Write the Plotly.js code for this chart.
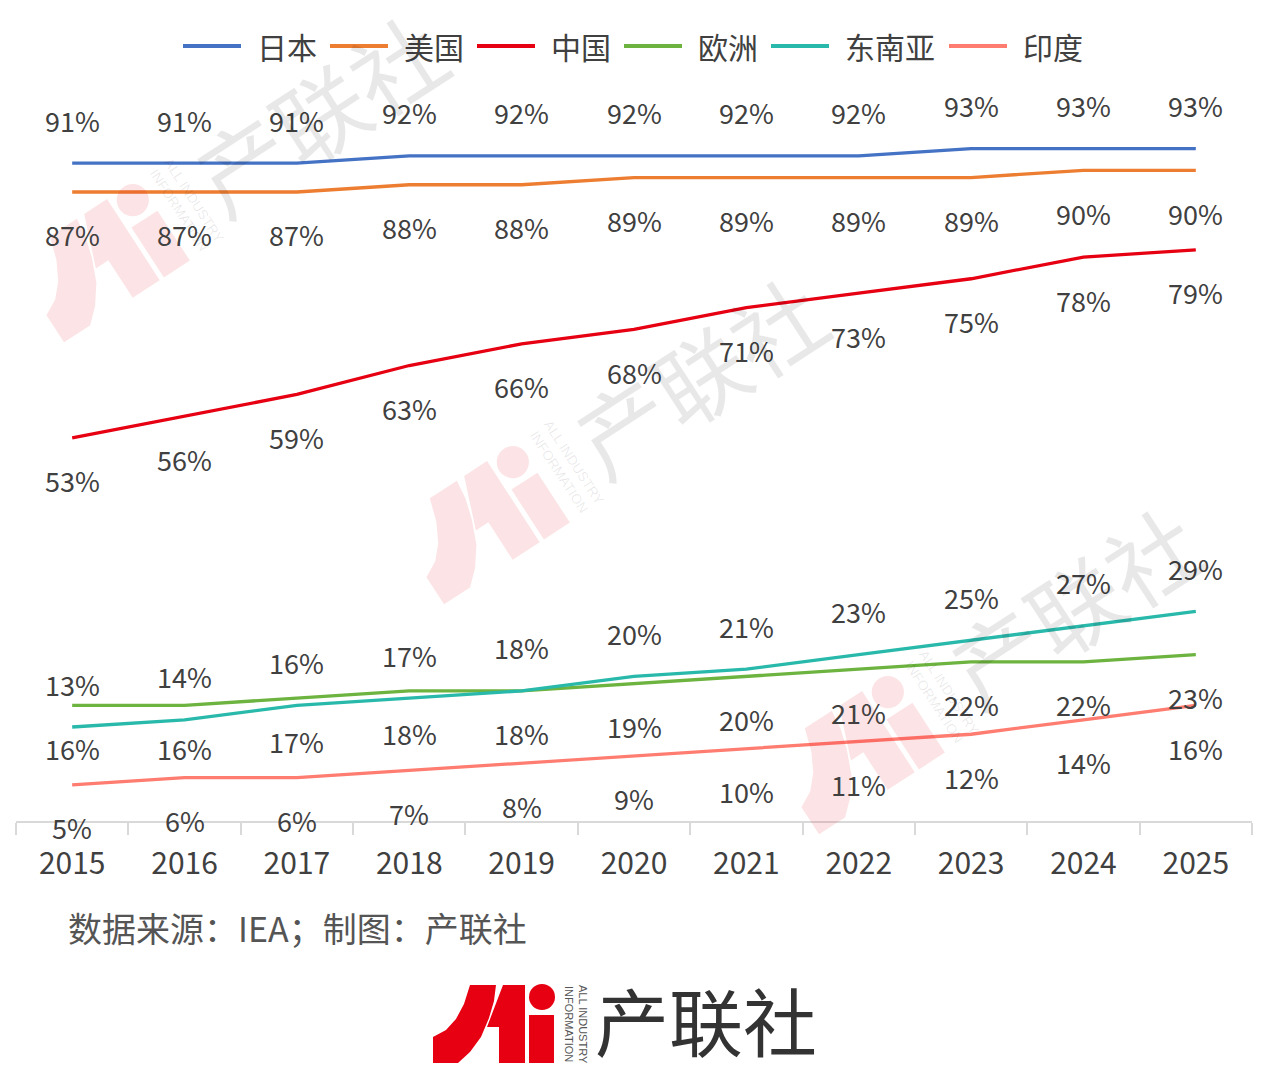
<!DOCTYPE html>
<html>
<head>
<meta charset="utf-8">
<script src="https://cdn.plot.ly/plotly-3.0.1.min.js"></script>
<style>
  html, body { margin: 0; padding: 0; background: #fff; }
  #chart { width: 1268px; height: 1072px; }
</style>
</head>
<body>
<div id="chart"></div>
<script>
(() => {
  "use strict";

  // ---- data ----
  const years = ["2015", "2016", "2017", "2018", "2019", "2020", "2021", "2022", "2023", "2024", "2025"];
  const japan = [91, 91, 91, 92, 92, 92, 92, 92, 93, 93, 93];
  const usa = [87, 87, 87, 88, 88, 89, 89, 89, 89, 90, 90];
  const china = [53, 56, 59, 63, 66, 68, 71, 73, 75, 78, 79];
  const europe = [16, 16, 17, 18, 18, 19, 20, 21, 22, 22, 23];
  const seAsia = [13, 14, 16, 17, 18, 20, 21, 23, 25, 27, 29];
  const india = [5, 6, 6, 7, 8, 9, 10, 11, 12, 14, 16];
  const seriesNames = ["日本", "美国", "中国", "欧洲", "东南亚", "印度"];
  const sourceNote = "数据来源：IEA；制图：产联社";
  const brand = "产联社";
  const brandSub = "ALL INDUSTRY<br>INFORMATION";

  // ---- style ----
  const seriesValues = [japan, usa, china, europe, seAsia, india];
  const seriesColors = ["#4472C4", "#ED7D31", "#E60012", "#6CB33F", "#29B9AB", "#FF7C70"];
  const labelSide = [1, -1, -1, -1, 1, -1]; // 1 = above line, -1 = below

  const FONT = "Noto Sans CJK SC, Noto Sans, sans-serif";
  const TXT = "#404040";

  const W = 1268, H = 1072, ML = 16, MR = 16, MT = 98, MB = 251;
  const PW = W - ML - MR, PH = H - MT - MB;
  const px2x = (px) => (px - ML) / PW;
  const py2y = (py) => (H - MB - py) / PH;

  // ---- traces ----
  const traces = seriesValues.map((vals, i) => ({
    type: "scatter",
    mode: "lines",
    name: seriesNames[i],
    x: years,
    y: vals,
    line: { color: seriesColors[i], width: 3.3 },
    hoverinfo: "skip",
    showlegend: false,
  }));

  const annotations = [];
  const shapes = [];

  // value labels
  seriesValues.forEach((vals, i) => {
    vals.forEach((v, j) => {
      annotations.push({
        x: j, y: v, xref: "x", yref: "y",
        xanchor: "center", yanchor: "middle",
        text: v + "%", showarrow: false,
        yshift: labelSide[i] > 0 ? 43 : -43,
        font: { family: FONT, size: 27, color: TXT },
      });
    });
  });

  // legend (drawn by hand: long line swatches)
  let lx = 183;
  const ly = py2y(46);
  seriesNames.forEach((name, i) => {
    shapes.push({
      type: "line", xref: "paper", yref: "paper",
      x0: px2x(lx), x1: px2x(lx + 58), y0: ly, y1: ly,
      line: { color: seriesColors[i], width: 4 },
    });
    lx += 72;
    annotations.push({
      x: px2x(lx), y: ly, xref: "paper", yref: "paper",
      xanchor: "left", yanchor: "middle", showarrow: false,
      text: name, font: { family: FONT, size: 30, color: TXT },
    });
    lx += name.length * 31 + 13;
  });

  // source note
  annotations.push({
    x: px2x(66), y: py2y(927), xref: "paper", yref: "paper",
    xanchor: "left", yanchor: "middle", showarrow: false,
    text: sourceNote, font: { family: FONT, size: 34, color: "#555555" },
  });

  // ---- logo (page pixel coords, origin at its bottom-left) ----
  const LOGO_O = [432, 1063];
  const logoPolys = [
    [[470, 985], [496, 985], [494, 1001], [489, 1018], [481, 1037], [470, 1052], [458, 1063],
     [433, 1063], [433, 1037], [446, 1030], [456, 1019], [464, 1004]],
    [[503, 985], [525, 985], [525, 1063], [499, 1063], [499, 1027], [487, 1027]],
    [[529, 1015], [554, 1015], [554, 1063], [529, 1063]],
  ];
  const logoDot = { c: [542, 997], r: 13 };
  const brandPos = [706, 1019];
  const subPos = [576, 1024];

  function addLogo(anchor, s, deg, fill, brandColor, subColor) {
    const t = deg * Math.PI / 180, c = Math.cos(t), sn = Math.sin(t);
    const tf = ([x, y]) => {
      const dx = x - LOGO_O[0], dy = y - LOGO_O[1];
      return [anchor[0] + s * (dx * c + dy * sn), anchor[1] + s * (-dx * sn + dy * c)];
    };
    logoPolys.forEach((poly) => {
      const d = "M" + poly.map((p) => {
        const q = tf(p);
        return px2x(q[0]).toFixed(5) + "," + py2y(q[1]).toFixed(5);
      }).join("L") + "Z";
      shapes.push({ type: "path", xref: "paper", yref: "paper", path: d,
        fillcolor: fill, line: { width: 0 }, layer: "above" });
    });
    const dc = tf(logoDot.c), r = logoDot.r * s;
    shapes.push({ type: "circle", xref: "paper", yref: "paper",
      x0: px2x(dc[0] - r), x1: px2x(dc[0] + r), y0: py2y(dc[1] + r), y1: py2y(dc[1] - r),
      fillcolor: fill, line: { width: 0 }, layer: "above" });
    const bp = tf(brandPos), sp = tf(subPos);
    annotations.push({
      x: px2x(bp[0]), y: py2y(bp[1]), xref: "paper", yref: "paper",
      xanchor: "center", yanchor: "middle",
      showarrow: false, text: brand, textangle: -deg,
      font: { family: FONT, size: 74 * s, color: brandColor },
    });
    annotations.push({
      x: px2x(sp[0]), y: py2y(sp[1]), xref: "paper", yref: "paper",
      xanchor: "center", yanchor: "middle",
      showarrow: false, text: brandSub, textangle: 90 - deg,
      font: { family: "Liberation Sans Narrow, Liberation Sans, sans-serif", size: 11 * s, color: subColor },
    });
  }

  // watermarks
  [[63, 343], [443, 605], [818, 835]].forEach((a) =>
    addLogo(a, 1.24, 33, "rgba(230,0,18,0.11)", "rgba(0,0,0,0.09)", "rgba(0,0,0,0.09)"));
  // footer logo
  addLogo(LOGO_O, 1, 0, "#E60012", "#333333", "#555555");

  const layout = {
    width: W, height: H,
    margin: { l: ML, r: MR, t: MT, b: MB, pad: 0 },
    paper_bgcolor: "#ffffff", plot_bgcolor: "#ffffff",
    showlegend: false,
    font: { family: FONT, color: TXT },
    xaxis: {
      type: "category", range: [-0.5, 10.5],
      tickson: "boundaries", ticks: "outside", ticklen: 12, tickwidth: 2, tickcolor: "#d9d9d9",
      showline: true, linecolor: "#d9d9d9", linewidth: 2,
      showgrid: false, zeroline: false,
      tickfont: { family: FONT, size: 30, color: TXT },
      ticklabelstandoff: 15,
      fixedrange: true,
    },
    yaxis: {
      range: [0, 100], showgrid: false, zeroline: false, showline: false,
      showticklabels: false, ticks: "", fixedrange: true,
    },
    annotations: annotations,
    shapes: shapes,
  };

  Plotly.newPlot("chart", traces, layout, { displayModeBar: false, staticPlot: true });
})();
</script>
</body>
</html>
